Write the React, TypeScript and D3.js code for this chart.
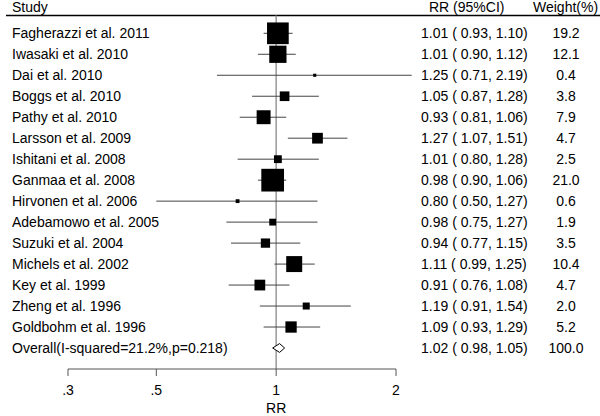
import React from "react";
import * as d3 from "d3";

const studies = [
  "Fagherazzi et al. 2011",
  "Iwasaki et al. 2010",
  "Dai et al. 2010",
  "Boggs et al. 2010",
  "Pathy et al. 2010",
  "Larsson et al. 2009",
  "Ishitani et al. 2008",
  "Ganmaa et al. 2008",
  "Hirvonen et al. 2006",
  "Adebamowo et al. 2005",
  "Suzuki et al. 2004",
  "Michels et al. 2002",
  "Key et al. 1999",
  "Zheng et al. 1996",
  "Goldbohm et al. 1996",
];
const rr = [1.01, 1.01, 1.25, 1.05, 0.93, 1.27, 1.01, 0.98, 0.8, 0.98, 0.94, 1.11, 0.91, 1.19, 1.09];
const lower = [0.93, 0.9, 0.71, 0.87, 0.81, 1.07, 0.8, 0.9, 0.5, 0.75, 0.77, 0.99, 0.76, 0.91, 0.93];
const upper = [1.1, 1.12, 2.19, 1.28, 1.06, 1.51, 1.28, 1.06, 1.27, 1.27, 1.15, 1.25, 1.08, 1.54, 1.29];
const weights = [19.2, 12.1, 0.4, 3.8, 7.9, 4.7, 2.5, 21.0, 0.6, 1.9, 3.5, 10.4, 4.7, 2.0, 5.2];

const overallLabel = "Overall(I-squared=21.2%,p=0.218)";
const overallRR = 1.02;
const overallLower = 0.98;
const overallUpper = 1.05;
const overallWeight = 100.0;

const tickValues = [0.3, 0.5, 1, 2];
const tickLabels = [".3", ".5", "1", "2"];

const W = 600;
const H = 416;
const FONT = "Liberation Sans, Arial, Helvetica, sans-serif";

export default function App() {
  const x = d3.scaleLog().domain([0.3, 2]).range([68, 396]);
  const y = d3.scaleLinear().domain([0, 15]).range([33.3, 348]);
  const size = d3.scaleSqrt().domain([0, 21]).range([0, 22.7]);
  const axisY = 369;
  const headerY = 15.5;
  const f2 = d3.format(".2f");
  const f1 = d3.format(".1f");
  const ciText = (r: number, l: number, u: number) => `${f2(r)} ( ${f2(l)}, ${f2(u)})`;

  return (
    <svg
      width={W}
      height={H}
      style={{ position: "absolute", left: 0, top: 0, background: "#fff" }}
      fontFamily={FONT}
      fontSize={14}
    >
      <rect x={0} y={0} width={W} height={H} fill="#fff" />
      {/* header */}
      <text x={12} y={12}>Study</text>
      <text x={429} y={12}>RR (95%CI)</text>
      <text x={533} y={12}>Weight(%)</text>
      <line x1={6} x2={600} y1={headerY} y2={headerY} stroke="#000" strokeWidth={1.3} />

      {/* reference line at 1 */}
      <line x1={x(1)} x2={x(1)} y1={headerY} y2={axisY} stroke="#999" strokeWidth={1.5} />

      {/* studies */}
      {studies.map((s, i) => {
        const cy = y(i);
        const side = size(weights[i]);
        return (
          <g key={s}>
            <text x={12} y={cy} dy="0.36em">{s}</text>
            <line x1={x(lower[i])} x2={x(upper[i])} y1={cy} y2={cy} stroke="#444" strokeWidth={1} />
            <rect x={x(rr[i]) - side / 2} y={cy - side / 2} width={side} height={side} fill="#000" />
            <text x={421} y={cy} dy="0.36em">{ciText(rr[i], lower[i], upper[i])}</text>
            <text x={566} y={cy} dy="0.36em" textAnchor="middle">{f1(weights[i])}</text>
          </g>
        );
      })}

      {/* overall */}
      {(() => {
        const cy = y(15);
        const h = 4.4;
        const pts = [
          [x(overallLower), cy],
          [x(overallRR), cy - h],
          [x(overallUpper), cy],
          [x(overallRR), cy + h],
        ];
        return (
          <g>
            <text x={12} y={cy} dy="0.36em">{overallLabel}</text>
            <polygon points={pts.map((p) => p.join(",")).join(" ")} fill="#fff" stroke="#000" strokeWidth={1} />
            <text x={421} y={cy} dy="0.36em">{ciText(overallRR, overallLower, overallUpper)}</text>
            <text x={566} y={cy} dy="0.36em" textAnchor="middle">{f1(overallWeight)}</text>
          </g>
        );
      })()}

      {/* axis */}
      <line x1={x(0.3)} x2={x(2)} y1={axisY} y2={axisY} stroke="#555" strokeWidth={1} />
      {tickValues.map((t, i) => (
        <g key={t}>
          <line x1={x(t)} x2={x(t)} y1={axisY} y2={axisY + 7} stroke="#555" strokeWidth={1} />
          <text x={x(t)} y={395} textAnchor="middle">{tickLabels[i]}</text>
        </g>
      ))}
      <text x={x(1)} y={413} textAnchor="middle">RR</text>
    </svg>
  );
}
